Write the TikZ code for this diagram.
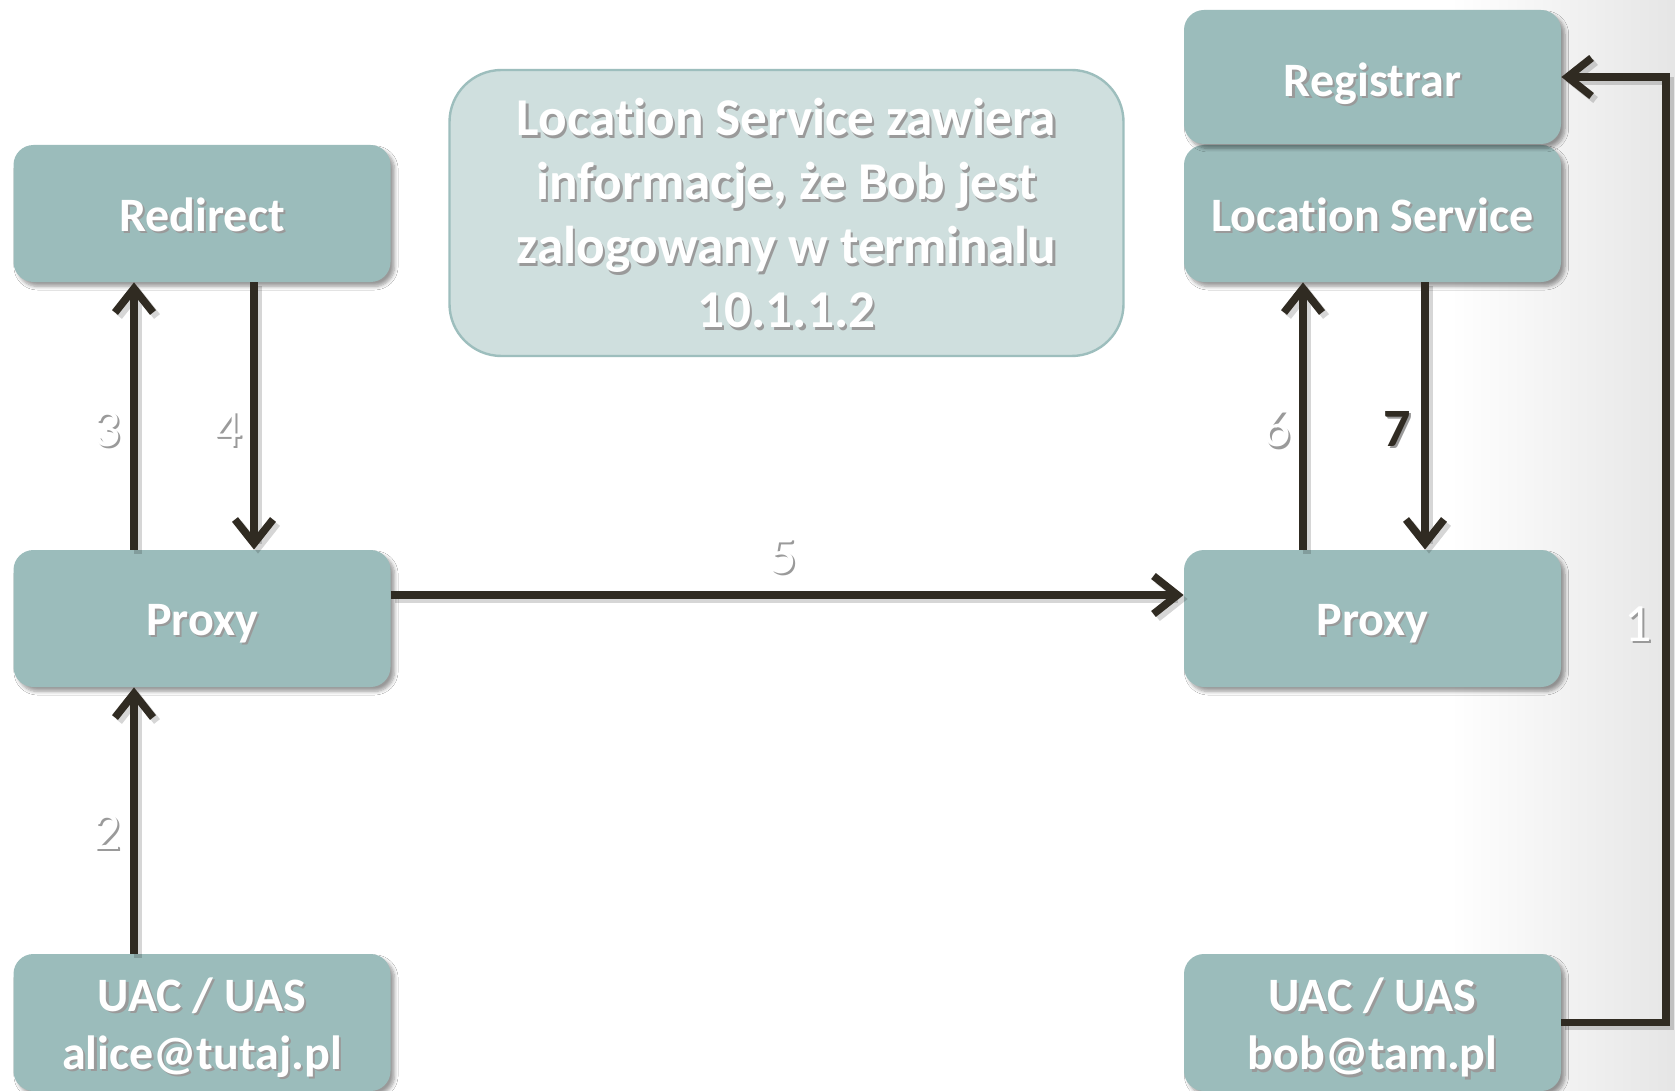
\documentclass[tikz,border=0pt]{standalone}
\usepackage{fontspec}
\setmainfont{Carlito}[Ligatures={NoCommon}]
\usetikzlibrary{arrows.meta,shadows.blur}

\definecolor{boxfill}{HTML}{9BBCBB}
\definecolor{notefill}{HTML}{CFDFDE}
\definecolor{noteline}{HTML}{9DBEBD}
\definecolor{wire}{HTML}{302B22}
\definecolor{txtshadow}{HTML}{6E6E6E}

% text with a small grey drop shadow behind it, lowered by \txtdrop
\newdimen\txtdrop
\newcommand\shd[1]{\leavevmode\raisebox{-\txtdrop}[\height][\depth]{%
  \rlap{\kern1.1pt\raisebox{-1.1pt}{\textcolor{txtshadow!70}{#1}}}#1}}

\tikzset{
  drop/.style={execute at begin node={\txtdrop=#1\relax}},
  box/.style={rounded corners=10pt, fill=boxfill, draw=none,
    minimum width=188.5pt, minimum height=68.5pt, inner sep=0pt,
    text=white, align=center,
    font=\fontsize{24}{29}\selectfont\bfseries,
    blur shadow={shadow xshift=2pt, shadow yshift=-2.2pt,
      shadow blur radius=1.8pt, shadow blur steps=6, shadow opacity=40}},
  note/.style={rounded corners=26pt, fill=notefill, draw=noteline,
    line width=1.2pt, minimum width=337pt, minimum height=143pt,
    inner sep=0pt, text=white, align=center,
    font=\fontsize{26.6}{32}\selectfont\bfseries},
  num/.style={text=white, font=\fontsize{27}{30}\selectfont, inner sep=0pt},
  numdark/.style={text=wire, font=\fontsize{27}{30}\selectfont\bfseries, inner sep=0pt},
  arr/.style={draw=wire, line width=3.8pt,
    -{Straight Barb[length=12pt, width=19pt, line width=3.8pt]},
    preaction={draw=black, opacity=0.16, line width=3.8pt,
      transform canvas={shift={(2pt,-2pt)}}}},
}

\begin{document}
\begin{tikzpicture}[x=0.5pt, y=-0.5pt]
  % page area and the soft grey band along the right edge
  \useasboundingbox (0,0) rectangle (1675,1091);
  \fill[white] (0,0) rectangle (1675,1091);
  \shade[left color=white, right color=black!10, draw=none]
    (1450,0) rectangle (1675,1091);

  % left column
  \node[box, drop=1.1pt] (redirect) at (202,213.5) {\shd{Redirect}};
  \node[box, drop=3.2pt] (proxyL)   at (202,618.5) {\shd{Proxy}};
  \node[box, drop=3.2pt] (uacL)     at (202,1022.5) {\shd{UAC / UAS}\\\shd{alice@tutaj.pl}};

  % right column
  \node[box, drop=1.1pt] (locsvc)    at (1372.5,213.5) {\shd{Location Service}};
  \node[box, drop=3.7pt, minimum height=67pt] (registrar) at (1372.5,77) {\shd{Registrar}};
  \node[box, drop=3.2pt] (proxyR)    at (1372.5,618.5) {\shd{Proxy}};
  \node[box, drop=3.2pt] (uacR)      at (1372.5,1022.5) {\shd{UAC / UAS}\\\shd{bob@tam.pl}};

  % note
  \node[note, drop=0.8pt] (info) at (786.5,213) {\shd{Location Service zawiera}\\
    \shd{informacje, że Bob jest}\\\shd{zalogowany w terminalu}\\\shd{10.1.1.2}};

  % the corner point of the registration path
  \coordinate (edge) at (1666,0);

  % connectors
  \draw[arr] ([xshift=-34pt]uacL.north) -- ([xshift=-34pt]proxyL.south);
  \draw[arr] ([xshift=-34pt]proxyL.north) -- ([xshift=-34pt]redirect.south);
  \draw[arr] ([xshift=26pt]redirect.south) -- ([xshift=26pt]proxyL.north);
  \draw[arr] ([yshift=11.75pt]proxyL.east) -- ([yshift=11.75pt]proxyR.west);
  \draw[arr] ([xshift=-34.75pt]proxyR.north) -- ([xshift=-34.75pt]locsvc.south);
  \draw[arr] ([xshift=26.25pt]locsvc.south) -- ([xshift=26.25pt]proxyR.north);
  \draw[arr] (uacR.east) -- (uacR.east -| edge) -- (registrar.east -| edge) -- (registrar.east);

  % step numbers
  \node[num] (n1) at (1638,625) {\shd{1}};
  \node[num] (n2) at (107,833) {\shd{2}};
  \node[num] (n3) at (107,430) {\shd{3}};
  \node[num] (n4) at (228,430) {\shd{4}};
  \node[num] (n5) at (783,557) {\shd{5}};
  \node[num] (n6) at (1277,430) {\shd{6}};
  \node[numdark] (n7) at (1397,430) {\shd{7}};
\end{tikzpicture}
\end{document}
